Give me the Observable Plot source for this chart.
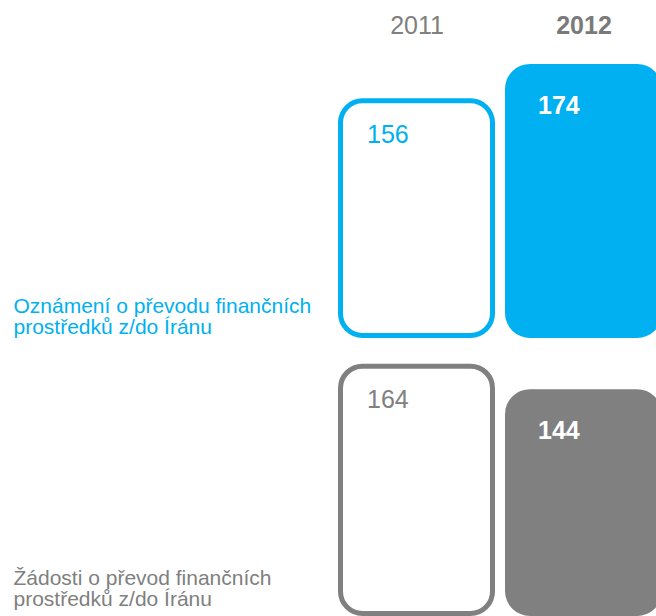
<!DOCTYPE html>
<html><head><meta charset="utf-8">
<script src="https://cdn.jsdelivr.net/npm/d3@7"></script>
<script src="https://cdn.jsdelivr.net/npm/@observablehq/plot@0.6"></script>
<style>body{margin:0;background:#fff;} svg{display:block}</style>
</head><body><div id="chart"></div>
<script>
const categories = ["Oznámení", "Žádosti"];
const categoryLabels = ["Oznámení o převodu finančních\nprostředků z/do Íránu", "Žádosti o převod finančních\nprostředků z/do Íránu"];
const years = ["2011", "2012"];
const values2011 = [156, 164];
const values2012 = [174, 144];
const colors = ["#00b0f0", "#808080"];

const rows = categories.flatMap((c, i) => [
  {category: c, year: years[0], value: values2011[i]},
  {category: c, year: years[1], value: values2012[i]}
]);
const r2011 = rows.filter(d => d.year === years[0]);
const r2012 = rows.filter(d => d.year === years[1]);
const headers = years.map(y => ({year: y, category: categories[0]}));
const labels = categories.map((c, i) => ({category: c, label: categoryLabels[i]}));
const font = "'Liberation Sans', Arial, sans-serif";

const chart = Plot.plot({
  width: 656, height: 616,
  marginTop: 60, marginBottom: 0, marginLeft: 13, marginRight: 0,
  style: {fontFamily: font, background: "white"},
  x: {type: "band", domain: years, range: [338, 662], paddingInner: 10/167, paddingOuter: 0, axis: null},
  y: {domain: [0, 176.5], axis: null},
  fy: {domain: categories, paddingInner: 0, paddingOuter: 0, axis: null},
  color: {domain: categories, range: colors},
  marks: [
    Plot.barY(r2012, {x: "year", y: "value", fy: "category", fill: "category", rx: 25}),
    Plot.barY(r2011, {x: "year", y: "value", fy: "category", stroke: "category", fill: "white", strokeWidth: 5,
      insetLeft: 2.5, insetRight: 2.5, insetBottom: 2.5, insetTop: 8.5, rx: 22}),
    Plot.text(r2011, {x: "year", y: "value", fy: "category", text: d => String(d.value), fill: "category",
      textAnchor: "start", lineAnchor: "top", dx: -50, dy: 32, fontSize: 25}),
    Plot.text(r2012, {x: "year", y: "value", fy: "category", text: d => String(d.value), fill: "white",
      fontWeight: "bold", textAnchor: "start", lineAnchor: "top", dx: -46, dy: 32, fontSize: 25}),
    Plot.text(headers.filter(d => d.year === years[0]), {x: "year", fy: "category", text: "year", frameAnchor: "top",
      lineAnchor: "bottom", dy: -27, fontSize: 25, fill: "#808080"}),
    Plot.text(headers.filter(d => d.year === years[1]), {x: "year", fy: "category", text: "year", frameAnchor: "top",
      lineAnchor: "bottom", dy: -27, fontSize: 25, fill: "#7a7a7a", fontWeight: "bold"}),
    Plot.text(labels.filter(d => d.category === categories[0]), {fy: "category", text: "label", fill: "category",
      frameAnchor: "bottom-left", textAnchor: "start", lineAnchor: "bottom", fontSize: 21, lineHeight: 1, dy: -5}),
    Plot.text(labels.filter(d => d.category === categories[1]), {fy: "category", text: "label", fill: "category",
      frameAnchor: "bottom-left", textAnchor: "start", lineAnchor: "bottom", fontSize: 21, lineHeight: 1, dy: -11})
  ]
});
document.getElementById("chart").appendChild(chart);
</script>
</body></html>
